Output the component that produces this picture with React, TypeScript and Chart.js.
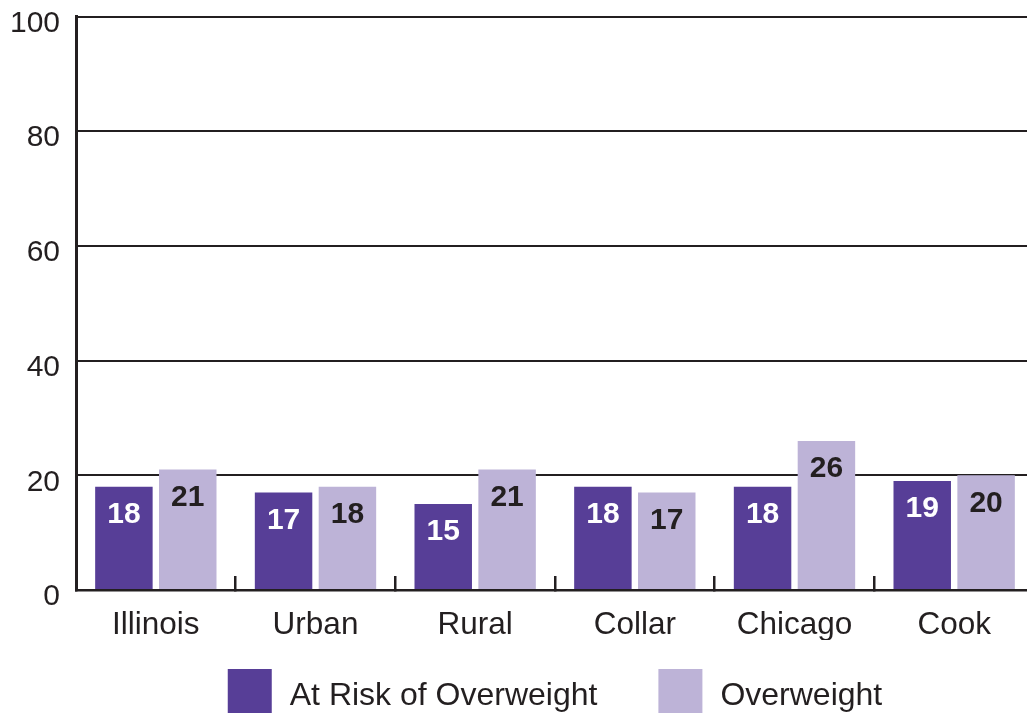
import { useEffect, useRef } from "react";
import { Chart, registerables } from "chart.js";

Chart.register(...registerables);

const categories = ["Illinois", "Urban", "Rural", "Collar", "Chicago", "Cook"];
const atRiskValues = [18, 17, 15, 18, 18, 19];
const overweightValues = [21, 18, 21, 17, 26, 20];
const seriesNames = ["At Risk of Overweight", "Overweight"];
const yTickValues = [0, 20, 40, 60, 80, 100];

const DARK = "#573e97";
const LIGHT = "#bdb3d7";
const INK = "#231f20";
const FONT = "'Liberation Sans', Arial, Helvetica, sans-serif";

const valueLabels = {
  id: "valueLabels",
  afterDatasetsDraw(chart: any) {
    const ctx = chart.ctx;
    ctx.save();
    ctx.font = `bold 30px ${FONT}`;
    ctx.textAlign = "center";
    ctx.textBaseline = "middle";
    chart.data.datasets.forEach((ds: any, di: number) => {
      const meta = chart.getDatasetMeta(di);
      meta.data.forEach((el: any, i: number) => {
        ctx.fillStyle = di === 0 ? "#ffffff" : INK;
        ctx.fillText(String(ds.data[i]), el.x, el.y + 28);
      });
    });
    ctx.restore();
  },
};

const bottomLegend = {
  id: "bottomLegend",
  afterDraw(chart: any) {
    const { ctx, chartArea } = chart;
    ctx.save();
    ctx.font = `32px ${FONT}`;
    const box = 44;
    const gapText = 18;
    const gapItem = 61;
    const items = chart.data.datasets.map((ds: any) => ({
      label: ds.label,
      color: ds.backgroundColor,
      w: box + gapText + ctx.measureText(ds.label).width,
    }));
    const total =
      items.reduce((s: number, it: any) => s + it.w, 0) + gapItem * (items.length - 1);
    let x = (chartArea.left + chartArea.right) / 2 - total / 2;
    const top = chartArea.bottom + 79;
    items.forEach((it: any) => {
      ctx.fillStyle = it.color;
      ctx.fillRect(x, top, box, box);
      ctx.fillStyle = INK;
      ctx.textAlign = "left";
      ctx.textBaseline = "middle";
      ctx.fillText(it.label, x + box + gapText, top + 27);
      x += it.w + gapItem;
    });
    ctx.restore();
  },
};

export default function App() {
  const ref = useRef<HTMLCanvasElement>(null);

  useEffect(() => {
    if (!ref.current) return;
    const chart = new Chart(ref.current, {
      type: "bar",
      data: {
        labels: categories,
        datasets: [
          {
            label: seriesNames[0],
            data: atRiskValues,
            backgroundColor: DARK,
            borderWidth: 0,
            categoryPercentage: 0.8,
            barPercentage: 0.9,
          },
          {
            label: seriesNames[1],
            data: overweightValues,
            backgroundColor: LIGHT,
            borderWidth: 0,
            categoryPercentage: 0.8,
            barPercentage: 0.9,
          },
        ],
      },
      options: {
        responsive: false,
        animation: false,
        devicePixelRatio: 1,
        layout: { padding: { left: 0, right: 6, top: 0, bottom: 73 } },
        plugins: {
          legend: { display: false },
          tooltip: { enabled: false },
          title: { display: false },
        },
        scales: {
          x: {
            grid: {
              display: true,
              drawOnChartArea: false,
              drawTicks: true,
              tickLength: -14,
              color: INK,
              lineWidth: 2.5,
              offset: true,
            },
            border: { display: true, color: INK, width: 2.5 },
            ticks: {
              color: INK,
              font: { family: FONT, size: 31.5 },
              padding: 30,
              maxRotation: 0,
              autoSkip: false,
            },
            afterFit: (scale: any) => {
              scale.height = 50;
            },
          },
          y: {
            min: 0,
            max: 100,
            afterBuildTicks: (scale: any) => {
              scale.ticks = yTickValues.map((v) => ({ value: v }));
            },
            grid: {
              display: true,
              drawTicks: false,
              color: INK,
              lineWidth: 2,
            },
            border: { display: true, color: INK, width: 3 },
            ticks: {
              color: INK,
              font: { family: FONT, size: 30 },
              padding: 16,
              labelOffset: 7,
            },
            afterFit: (scale: any) => {
              scale.width = 76;
              scale.paddingTop = 16.5;
            },
          },
        },
      },
      plugins: [valueLabels, bottomLegend],
    });
    return () => chart.destroy();
  }, []);

  return (
    <div
      style={{
        position: "fixed",
        left: 0,
        top: 0,
        width: 1027,
        height: 713,
        overflow: "hidden",
        background: "#ffffff",
      }}
    >
      <canvas ref={ref} width={1040} height={713} style={{ display: "block" }} />
    </div>
  );
}
